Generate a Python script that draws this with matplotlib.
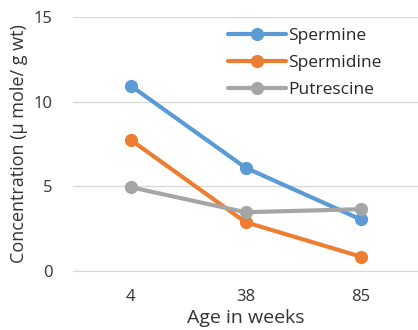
import matplotlib
matplotlib.use('Agg')
import matplotlib.pyplot as plt

# data
ages = ['4', '38', '85']
spermine = [10.95, 6.1, 3.05]
spermidine = [7.75, 2.88, 0.85]
putrescine = [4.95, 3.47, 3.65]

series = [
    ('Spermine', spermine, '#5B9BD5'),
    ('Spermidine', spermidine, '#ED7D31'),
    ('Putrescine', putrescine, '#A5A5A5'),
]

plt.rcParams['font.family'] = ['Open Sans', 'DejaVu Sans']

fig = plt.figure(figsize=(4.18, 3.30), dpi=100)
ax = fig.add_axes([0.175, 0.179, 0.825, 0.769])

x = list(range(len(ages)))
for name, vals, color in series:
    ax.plot(x, vals, color=color, linewidth=3, marker='o', markersize=8.5,
            label=name, solid_capstyle='round')

ax.set_xlim(-0.5, 2.5)
ax.set_ylim(0, 15)
ax.set_yticks([0, 5, 10, 15])
ax.set_xticks(x)
ax.set_xticklabels(ages)

ax.grid(axis='y', color='#D9D9D9', linewidth=1)
ax.set_axisbelow(True)
for s in ['top', 'right', 'left']:
    ax.spines[s].set_visible(False)
ax.spines['bottom'].set_color('#D9D9D9')
ax.tick_params(length=0, labelsize=12, colors='#333333')
ax.tick_params(axis='y', pad=15)
ax.tick_params(axis='x', pad=13)

ax.set_xlabel('Age in weeks', fontsize=14, color='#333333', labelpad=3)
ax.set_ylabel('Concentration (µ mole/ g wt)', fontsize=13, color='#333333', labelpad=4)

ax.legend(loc='upper left', bbox_to_anchor=(0.405, 1.02), frameon=False,
          fontsize=12.5, handlelength=3.3, handletextpad=0.15,
          labelspacing=0.62, labelcolor='#262626')

fig.savefig('out.png', dpi=100)
